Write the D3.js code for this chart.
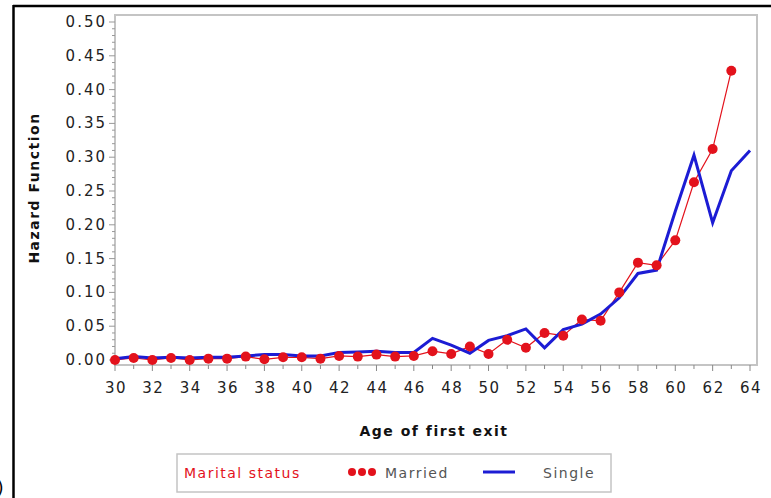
<!DOCTYPE html>
<html>
<head>
<meta charset="utf-8">
<script src="https://cdn.jsdelivr.net/npm/d3@7.9.0/dist/d3.min.js"></script>
<style>
  body { margin: 0; background: #fff; }
  svg { display: block; }
  text { font-family: "DejaVu Sans", "Liberation Sans", sans-serif; }
</style>
</head>
<body>
<svg id="chart" width="771" height="498"></svg>
<script>
// hazard by age of first exit
const marriedAges = d3.range(30, 64);
const marriedHazard = [
  0.000, 0.003, 0.000, 0.003, 0.000, 0.002, 0.002, 0.005, 0.001, 0.004,
  0.004, 0.002, 0.006, 0.005, 0.008, 0.005, 0.006, 0.013, 0.009, 0.020,
  0.009, 0.030, 0.018, 0.040, 0.036, 0.060, 0.058, 0.100, 0.144, 0.140,
  0.177, 0.263, 0.312, 0.428
];
const singleAges = d3.range(30, 65);
const singleHazard = [
  0.002, 0.005, 0.003, 0.004, 0.003, 0.004, 0.004, 0.006, 0.008, 0.008,
  0.006, 0.006, 0.011, 0.012, 0.013, 0.011, 0.011, 0.032, 0.022, 0.010,
  0.029, 0.036, 0.046, 0.018, 0.045, 0.053, 0.068, 0.092, 0.128, 0.133,
  0.220, 0.303, 0.203, 0.280, 0.310
];
const xTicks = d3.range(30, 65, 2);
const yTicks = d3.range(0, 0.501, 0.05);

const married = marriedAges.map((a, i) => ({ age: a, h: marriedHazard[i] }));
const single = singleAges.map((a, i) => ({ age: a, h: singleHazard[i] }));

const red = '#e3121c';
const blue = '#1c1cd4';
const frame = { left: 115, right: 757, top: 15, bottom: 365 };

const svg = d3.select('#chart');

const xScale = d3.scaleLinear().domain([30, 64]).range([115, 750]);
const yScale = d3.scaleLinear().domain([0, 0.5]).range([360, 22]);

// outer black border (cropped figure)
svg.append('line').attr('x1', 13).attr('x2', 771).attr('y1', 6).attr('y2', 6)
  .attr('stroke', '#000').attr('stroke-width', 2.5);
svg.append('line').attr('x1', 13.5).attr('x2', 13.5).attr('y1', 5).attr('y2', 498)
  .attr('stroke', '#000').attr('stroke-width', 2.5);
svg.append('text').attr('x', -3).attr('y', 494).attr('font-size', 17).text(')');

// plot frame
svg.append('rect')
  .attr('x', frame.left).attr('y', frame.top)
  .attr('width', frame.right - frame.left).attr('height', frame.bottom - frame.top)
  .attr('fill', 'none').attr('stroke', '#c4c4c4').attr('stroke-width', 2);

// x axis
const xAxis = svg.append('g').attr('transform', `translate(0, ${frame.bottom})`);
xAxis.selectAll('line.minor')
  .data(d3.range(30, 65, 1))
  .join('line')
  .attr('x1', d => xScale(d)).attr('x2', d => xScale(d))
  .attr('y1', 0).attr('y2', d => d % 2 === 0 ? 6 : 4)
  .attr('stroke', '#888').attr('stroke-width', 1);
xAxis.selectAll('text')
  .data(xTicks)
  .join('text')
  .attr('x', d => xScale(d) + 1)
  .attr('y', 28)
  .attr('text-anchor', 'middle')
  .attr('font-size', 15)
  .attr('letter-spacing', 1.5)
  .attr('fill', '#222')
  .text(d => d);

// y axis
const yAxis = svg.append('g').attr('transform', `translate(${frame.left}, 0)`);
yAxis.selectAll('line.minor')
  .data(d3.range(0, 51, 1))
  .join('line')
  .attr('x1', d => d % 5 === 0 ? -6 : -3).attr('x2', 0)
  .attr('y1', d => yScale(d / 100)).attr('y2', d => yScale(d / 100))
  .attr('stroke', '#999').attr('stroke-width', 1);
yAxis.selectAll('text')
  .data(yTicks)
  .join('text')
  .attr('x', -8)
  .attr('y', d => yScale(d) + 5)
  .attr('text-anchor', 'end')
  .attr('font-size', 15)
  .attr('letter-spacing', 2)
  .attr('fill', '#222')
  .text(d => d3.format('.2f')(d));

// axis titles
svg.append('text')
  .attr('x', 434).attr('y', 436)
  .attr('text-anchor', 'middle')
  .attr('font-size', 14).attr('font-weight', 'bold')
  .attr('letter-spacing', 1.5)
  .attr('fill', '#111')
  .text('Age of first exit');
svg.append('text')
  .attr('transform', 'translate(39, 188) rotate(-90)')
  .attr('text-anchor', 'middle')
  .attr('font-size', 14).attr('font-weight', 'bold')
  .attr('letter-spacing', 1.5)
  .attr('fill', '#111')
  .text('Hazard Function');

// series
const line = d3.line().x(d => xScale(d.age)).y(d => yScale(d.h));

svg.append('path').datum(married)
  .attr('d', line).attr('fill', 'none')
  .attr('stroke', red).attr('stroke-width', 1.2);

svg.append('path').datum(single)
  .attr('d', line).attr('fill', 'none')
  .attr('stroke', blue).attr('stroke-width', 3)
  .attr('stroke-linejoin', 'miter');

svg.append('g').selectAll('circle')
  .data(married)
  .join('circle')
  .attr('cx', d => xScale(d.age))
  .attr('cy', d => yScale(d.h))
  .attr('r', 5)
  .attr('fill', red);

// legend
const legend = svg.append('g');
legend.append('rect')
  .attr('x', 177).attr('y', 454).attr('width', 434).attr('height', 38)
  .attr('fill', '#fff').attr('stroke', '#c4c4c4').attr('stroke-width', 1.5);
legend.append('text')
  .attr('x', 184).attr('y', 478)
  .attr('font-size', 14).attr('letter-spacing', 1.5)
  .attr('fill', red)
  .text('Marital status');
legend.selectAll('circle')
  .data([352, 362, 372])
  .join('circle')
  .attr('cx', d => d).attr('cy', 472).attr('r', 4)
  .attr('fill', red);
legend.append('text')
  .attr('x', 385).attr('y', 478)
  .attr('font-size', 14).attr('letter-spacing', 1.5)
  .attr('fill', '#555')
  .text('Married');
legend.append('line')
  .attr('x1', 483).attr('x2', 515).attr('y1', 472).attr('y2', 472)
  .attr('stroke', blue).attr('stroke-width', 3);
legend.append('text')
  .attr('x', 543).attr('y', 478)
  .attr('font-size', 14).attr('letter-spacing', 1.5)
  .attr('fill', '#555')
  .text('Single');
</script>
</body>
</html>
